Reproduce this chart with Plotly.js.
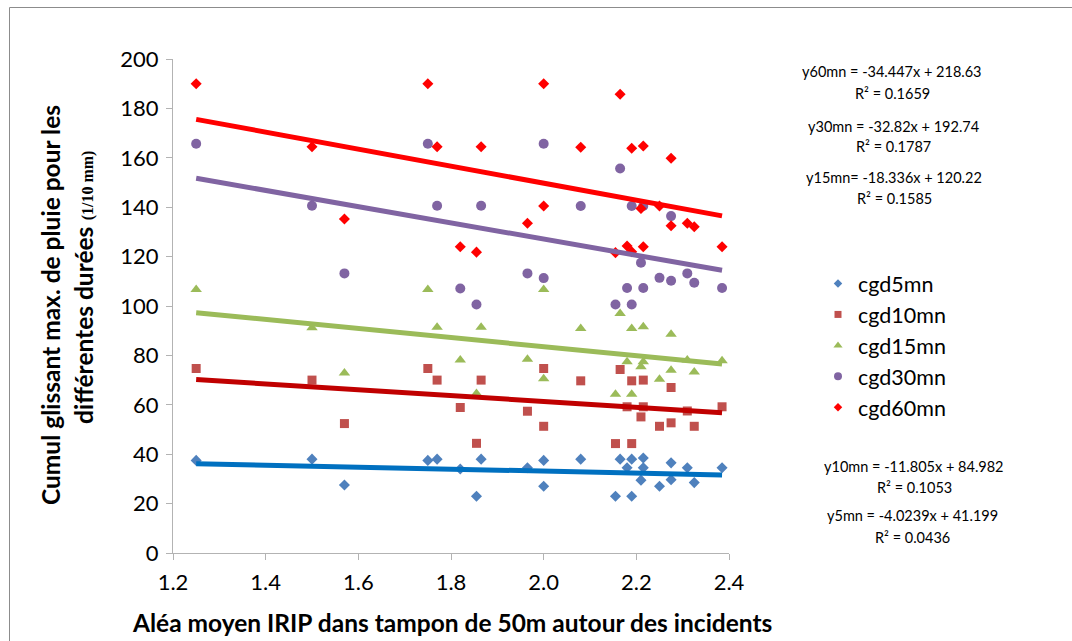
<!DOCTYPE html>
<html>
<head>
<meta charset="utf-8">
<script src="https://cdn.plot.ly/plotly-3.0.1.min.js"></script>
<style>
  html, body { margin: 0; padding: 0; background: #fff; }
  #chart { width: 1072px; height: 641px; }
</style>
</head>
<body>
<div id="chart"></div>
<script>
// ---- Data ----
const aleaX = [1.25, 1.5, 1.57, 1.75, 1.77, 1.82, 1.855, 1.865, 1.965, 2.0, 2.0, 2.08, 2.155, 2.165, 2.18, 2.19, 2.19, 2.21, 2.215, 2.215, 2.25, 2.275, 2.275, 2.31, 2.325, 2.385];
const cgd5mn  = [37.5, 38, 27.5, 37.5, 38, 34, 23, 38, 34.5, 37.5, 27, 38, 23, 38, 34.5, 38, 23, 29.5, 38.5, 34.5, 27, 36.5, 29.7, 34.5, 28.5, 34.5];
const cgd10mn = [74.7, 70, 52.4, 74.7, 70, 58.9, 44.4, 70, 57.4, 74.7, 51.3, 69.7, 44.3, 74.3, 59.2, 69.7, 44.3, 55.1, 70, 59.2, 51.3, 67, 52.7, 57.5, 51.3, 59.2];
const cgd15mn = [106.7, 91.2, 72.9, 106.7, 91.4, 78.1, 64.6, 91.4, 78.4, 106.7, 70.5, 90.9, 64.3, 97, 77.4, 90.9, 64.3, 75.4, 91.6, 77.4, 70.3, 88.6, 74, 78.1, 73.3, 77.8];
const cgd30mn = [165.7, 140.6, 113.2, 165.7, 140.6, 107.1, 100.6, 140.6, 113.2, 165.7, 111.3, 140.5, 100.6, 155.7, 107.3, 140.5, 100.6, 117.5, 140.5, 107.3, 111.4, 136.4, 110.2, 113.2, 109.4, 107.3];
const cgd60mn = [190, 164.5, 135.2, 190, 164.5, 124, 121.8, 164.5, 133.5, 190, 140.5, 164.3, 121.6, 185.7, 124.3, 163.9, 122, 139.5, 164.8, 124, 140.5, 159.8, 132.5, 133.5, 132.1, 124];

const seriesNames = ['cgd5mn', 'cgd10mn', 'cgd15mn', 'cgd30mn', 'cgd60mn'];
// trend line coefficients as printed on the chart
const slopes     = [-4.0239, -11.805, -18.336, -32.82, -34.447];
const intercepts = [41.199, 84.982, 120.22, 192.74, 218.63];
const eqTexts = ['y5mn = -4.0239x + 41.199', 'y10mn = -11.805x + 84.982', 'y15mn= -18.336x + 120.22', 'y30mn = -32.82x + 192.74', 'y60mn = -34.447x + 218.63'];
const r2Texts = ['R² = 0.0436', 'R² = 0.1053', 'R² = 0.1585', 'R² = 0.1787', 'R² = 0.1659'];

const xTickVals = [1.2, 1.4, 1.6, 1.8, 2.0, 2.2, 2.4];
const xTickText = ['1.2', '1.4', '1.6', '1.8', '2.0', '2.2', '2.4'];
const yTickVals = [0, 20, 40, 60, 80, 100, 120, 140, 160, 180, 200];

const xTitle = 'Aléa moyen IRIP dans tampon de 50m autour des incidents';
const yTitle1 = 'Cumul glissant max. de pluie pour les';
const yTitle2a = 'différentes durées';
const yTitle2b = '(1/10 mm)';

// ---- Styles ----
const allY = [cgd5mn, cgd10mn, cgd15mn, cgd30mn, cgd60mn];
const markerColors = ['#4F81BD', '#C0504D', '#9BBB59', '#8064A2', '#FF0000'];
const markerSymbols = ['diamond', 'square', 'triangle-up', 'circle', 'diamond'];
const markerSizes = [8.5, 9, 10, 10, 8.5];
const legendSizes = [6.5, 7, 8, 8, 6.5];
const lineColors = ['#0070C0', '#C00000', '#9BBB59', '#8064A2', '#FF0000'];

const FONT = 'Lato, "Open Sans", sans-serif';

// plot area in pixels
const L = 173, R = 729, T = 59, B = 553;
const W = 1072, H = 641;
const px = v => (v - L) / (R - L);
const py = v => (B - v) / (B - T);

const traces = [];
// scatter markers
allY.forEach((ys, i) => {
  traces.push({
    type: 'scatter', mode: 'markers', x: aleaX, y: ys, name: seriesNames[i],
    showlegend: false, cliponaxis: false,
    marker: { color: markerColors[i], symbol: markerSymbols[i], size: markerSizes[i], line: { width: 0 } },
    hoverinfo: 'x+y+name'
  });
});
// trend lines over the data range
const xmin = Math.min(...aleaX), xmax = Math.max(...aleaX);
allY.forEach((ys, i) => {
  traces.push({
    type: 'scatter', mode: 'lines', x: [xmin, xmax],
    y: [slopes[i] * xmin + intercepts[i], slopes[i] * xmax + intercepts[i]],
    showlegend: false, hoverinfo: 'skip',
    line: { color: lineColors[i], width: 5 }
  });
});
// legend entries (small markers)
allY.forEach((ys, i) => {
  traces.push({
    type: 'scatter', mode: 'markers', x: [null], y: [null], name: seriesNames[i],
    showlegend: true,
    marker: { color: markerColors[i], symbol: markerSymbols[i], size: legendSizes[i], line: { width: 0 } }
  });
});

const annotations = [];
// y-axis title (two rotated lines)
annotations.push({
  xref: 'paper', yref: 'paper', x: px(50), y: py(305), showarrow: false, textangle: -90,
  text: '<b>' + yTitle1 + '</b>', font: { family: FONT, size: 24.5, color: '#000' },
  xanchor: 'center', yanchor: 'middle'
});
annotations.push({
  xref: 'paper', yref: 'paper', x: px(83), y: py(288), showarrow: false, textangle: -90,
  text: '<b>' + yTitle2a + '</b> <span style="font-family:\'Liberation Serif\',serif;font-size:16px"><b>' + yTitle2b + '</b></span>',
  font: { family: FONT, size: 24.5, color: '#000' },
  xanchor: 'center', yanchor: 'middle'
});
// x-axis title
annotations.push({
  xref: 'paper', yref: 'paper', x: px(452), y: py(622), showarrow: false,
  text: '<b>' + xTitle + '</b>', font: { family: FONT, size: 24.5, color: '#000' },
  xanchor: 'center', yanchor: 'middle'
});
// equations
const eqPos = [ [912, 515, 537], [914, 466, 487], [894, 177, 198], [893, 126, 146], [892, 72, 93] ];
eqTexts.forEach((t, i) => {
  annotations.push({ xref: 'paper', yref: 'paper', x: px(eqPos[i][0]), y: py(eqPos[i][1]), showarrow: false,
    text: t, font: { family: FONT, size: 14.5, color: '#000' }, xanchor: 'center', yanchor: 'middle' });
  annotations.push({ xref: 'paper', yref: 'paper', x: px(eqPos[i][0]), y: py(eqPos[i][2]), showarrow: false,
    text: r2Texts[i], font: { family: FONT, size: 14.5, color: '#000' }, xanchor: 'center', yanchor: 'middle' });
});

const layout = {
  width: W, height: H,
  margin: { l: L, r: W - R, t: T, b: H - B, pad: 0 },
  paper_bgcolor: '#fff', plot_bgcolor: '#fff',
  font: { family: FONT, color: '#000' },
  xaxis: {
    range: [1.2, 2.4], tickvals: xTickVals, ticktext: xTickText,
    showgrid: false, zeroline: false, showline: true, linecolor: '#B3B3B3', linewidth: 1,
    ticks: 'outside', ticklen: 6, tickcolor: '#B3B3B3', tickfont: { family: FONT, size: 22, color: '#000' },
    ticklabelstandoff: 4, fixedrange: true
  },
  yaxis: {
    range: [0, 200], tickvals: yTickVals,
    showgrid: false, zeroline: false, showline: true, linecolor: '#B3B3B3', linewidth: 1,
    ticks: 'outside', ticklen: 6, tickcolor: '#B3B3B3', tickfont: { family: FONT, size: 22, color: '#000' },
    ticklabelstandoff: 3, fixedrange: true
  },
  legend: {
    x: px(818), y: py(263), xanchor: 'left', yanchor: 'top',
    font: { family: FONT, size: 21.5, color: '#000' }, bgcolor: 'rgba(0,0,0,0)', tracegroupgap: 0,
    itemwidth: 30
  },
  shapes: [{
    type: 'rect', xref: 'paper', yref: 'paper',
    x0: px(9.5), x1: px(1090), y0: py(660), y1: py(7.5),
    line: { color: '#8C8C8C', width: 1 }, fillcolor: 'rgba(0,0,0,0)'
  }],
  annotations: annotations,
  showlegend: true
};

Plotly.newPlot('chart', traces, layout, { displayModeBar: false, staticPlot: true });
</script>
</body>
</html>
